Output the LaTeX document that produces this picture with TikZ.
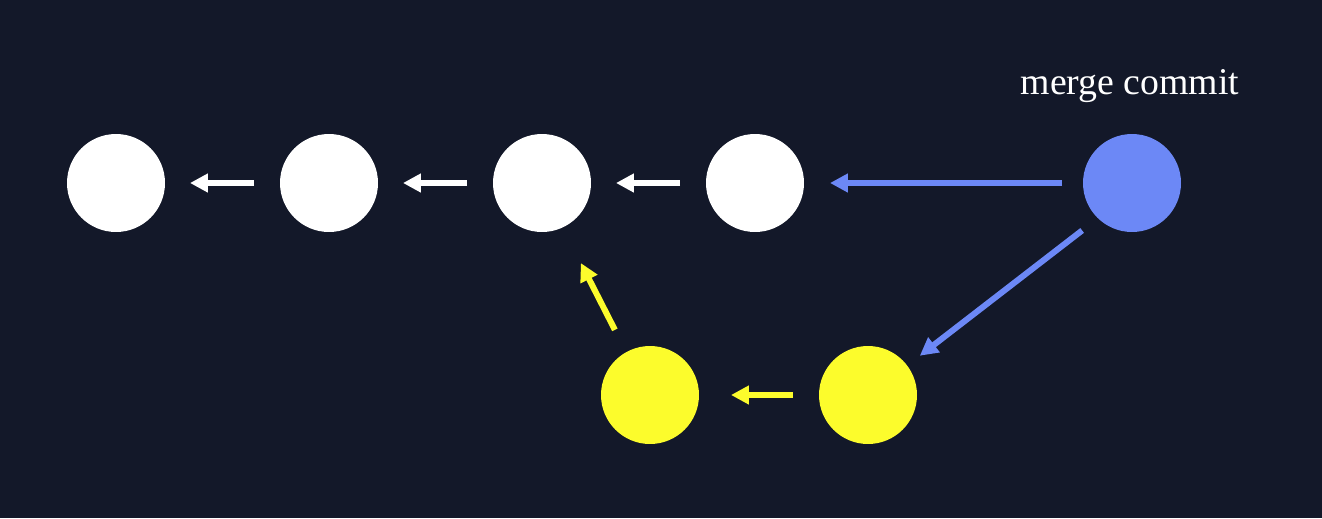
\documentclass[tikz,border=0pt]{standalone}
\usepackage{fontspec}
\setmainfont{Liberation Serif}
\usetikzlibrary{arrows.meta}
\definecolor{bg}{HTML}{131829}
\definecolor{cblue}{HTML}{6C88F6}
\definecolor{cyel}{HTML}{FCFC2C}
\begin{document}
\begin{tikzpicture}[x=0.02cm,y=-0.02cm,
  commit/.style={circle,minimum size=1.96cm,inner sep=0pt,outer sep=0pt},
  wc/.style={commit,fill=white},
  bc/.style={commit,fill=cblue},
  yc/.style={commit,fill=cyel},
  link/.style={line width=0.12cm,-{Triangle[length=0.36cm,width=0.36cm]}}]
\fill[bg] (0,0) rectangle (1322,518);
\useasboundingbox (0,0) rectangle (1322,518);
\node[wc] (a) at (116,183) {};
\node[wc] (b) at (329,183) {};
\node[wc] (c) at (542,183) {};
\node[wc] (d) at (755,183) {};
\node[bc] (m) at (1132,183) {};
\node[yc] (y1) at (650,395) {};
\node[yc] (y2) at (868,395) {};
\node[text=white,font=\fontsize{21.5}{26}\selectfont,anchor=base] (lbl) at (1130,94) {merge commit};
\draw[link,white,shorten <=0.52cm,shorten >=0.5cm] (b) -- (a);
\draw[link,white,shorten <=0.52cm,shorten >=0.5cm] (c) -- (b);
\draw[link,white,shorten <=0.52cm,shorten >=0.5cm] (d) -- (c);
\draw[link,cblue,shorten <=0.42cm,shorten >=0.52cm] (m) -- (d);
\draw[link,cblue,shorten <=0.4cm,shorten >=0.32cm] (m.226) -- (y2.37);
\draw[link,cyel,shorten <=0.52cm,shorten >=0.64cm] (y2) -- (y1);
\draw[link,cyel,shorten <=0.5cm,shorten >=0.8cm] (y1.119) -- (c.295);
\end{tikzpicture}
\end{document}
